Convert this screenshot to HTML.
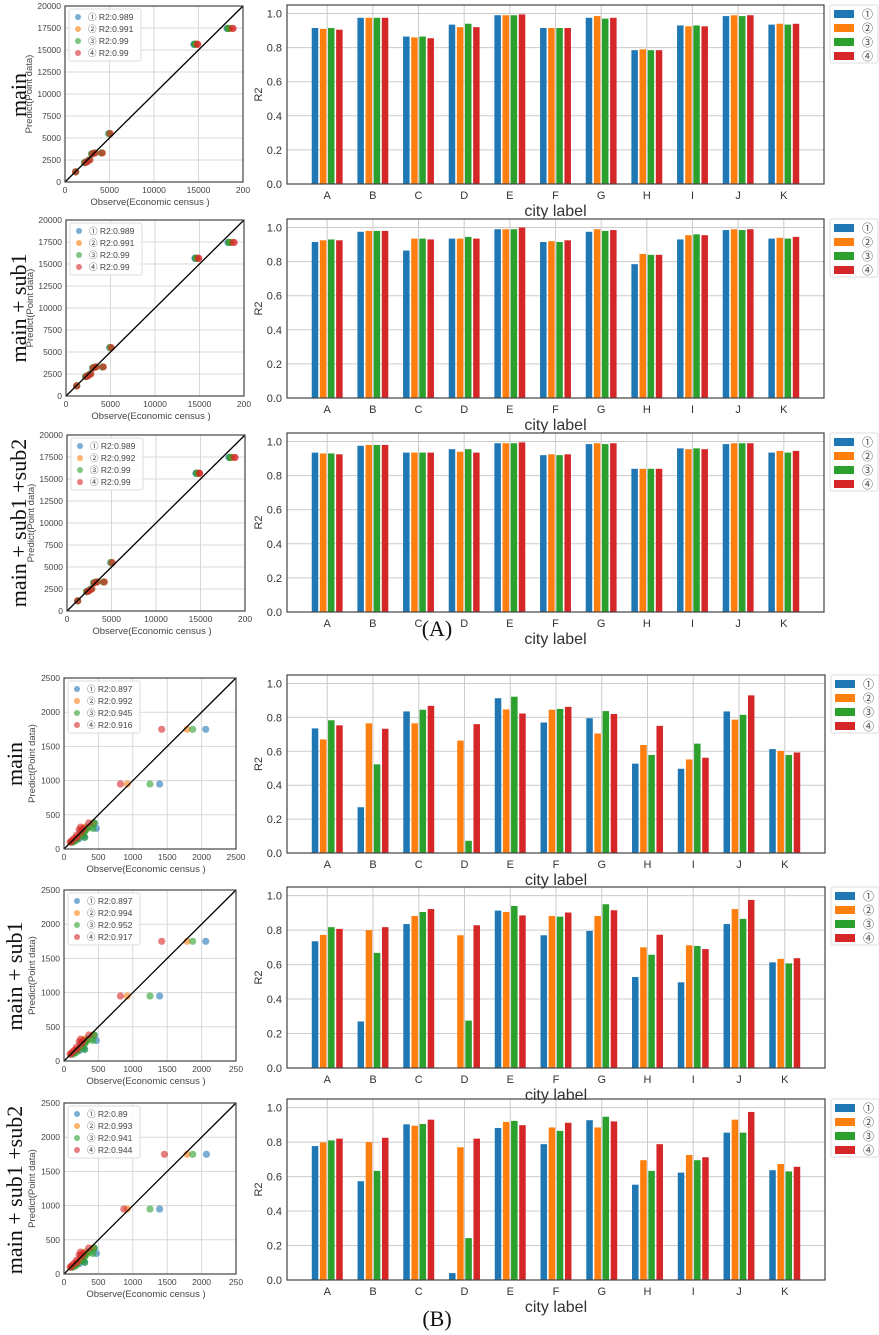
<!DOCTYPE html>
<html><head><meta charset="utf-8"><style>
html,body{margin:0;padding:0;background:#fff;}
svg{display:block;}
text{font-family:"Liberation Sans","Noto Sans CJK JP",sans-serif;}
</style></head><body>
<svg id="fig" width="879" height="1335" viewBox="0 0 879 1335" xmlns="http://www.w3.org/2000/svg"></svg>
<script>
const cities=["A","B","C","D","E","F","G","H","I","J","K"];
const seriesNames=["①","②","③","④"];
const colors=["#1f77b4","#ff7f0e","#2ca02c","#d62728"];
const barTicks=[0,0.2,0.4,0.6,0.8,1.0];
const barTickLabels=["0.0","0.2","0.4","0.6","0.8","1.0"];
const a1=[[.915,.91,.915,.905],[.975,.975,.975,.975],[.865,.86,.865,.855],[.935,.92,.94,.92],[.99,.99,.99,.995],[.915,.915,.915,.915],[.975,.985,.97,.975],[.785,.79,.785,.785],[.93,.925,.93,.925],[.985,.99,.985,.99],[.935,.94,.935,.94]];
const a2=[[.915,.925,.93,.925],[.975,.98,.98,.98],[.865,.935,.935,.93],[.935,.935,.945,.935],[.99,.99,.99,1.0],[.915,.92,.915,.925],[.975,.99,.98,.985],[.785,.845,.84,.84],[.93,.955,.96,.955],[.985,.99,.985,.99],[.935,.94,.935,.945]];
const a3=[[.935,.93,.93,.925],[.975,.98,.98,.98],[.935,.935,.935,.935],[.955,.94,.955,.935],[.99,.99,.99,.995],[.92,.925,.92,.925],[.985,.99,.985,.99],[.84,.84,.84,.84],[.96,.955,.96,.955],[.985,.99,.99,.99],[.935,.945,.935,.945]];
const b1=[[.735,.67,.783,.753],[.27,.765,.523,.733],[.835,.765,.845,.868],[0,.663,.072,.76],[.913,.847,.922,.823],[.77,.845,.85,.862],[.795,.705,.837,.82],[.527,.637,.578,.75],[.497,.552,.645,.562],[.835,.787,.815,.93],[.613,.602,.578,.593]];
const b2=[[.735,.772,.817,.807],[.27,.8,.668,.817],[.835,.882,.905,.922],[0,.77,.275,.828],[.913,.905,.94,.885],[.77,.882,.878,.902],[.795,.882,.95,.915],[.528,.7,.657,.773],[.497,.712,.708,.69],[.835,.922,.865,.975],[.613,.633,.607,.637]];
const b3=[[.777,.798,.81,.82],[.573,.8,.633,.825],[.903,.895,.905,.93],[.04,.77,.243,.82],[.882,.917,.923,.898],[.788,.885,.865,.912],[.927,.885,.947,.92],[.553,.695,.633,.788],[.623,.725,.695,.712],[.855,.93,.855,.975],[.637,.673,.63,.657]];
const aPred=[1150,2200,2300,2500,3200,3300,3300,5500,15650,15650,17450,17450];
const aObs1=[1200,2200,2400,2700,3000,3300,4100,4900,14500,14500,18200,18300];
const aObs2=[1200,2250,2450,2750,3050,3350,4150,5000,14700,14700,18450,18500];
const aObs3=[1200,2200,2400,2700,3000,3300,4100,4950,14600,14600,18300,18400];
const aObs4=[1200,2300,2500,2800,3100,3400,4200,5100,14900,14900,18800,18900];
const aR2a=["0.989","0.991","0.99","0.99"];
const aR2b=["0.989","0.991","0.99","0.99"];
const aR2c=["0.989","0.992","0.99","0.99"];
const aTicks=[0,2500,5000,7500,10000,12500,15000,17500,20000];
const aXTicks=[0,5000,10000,15000,20000];
const aXTickLabels=["0","5000","10000","15000","200"];
const bPred=[1750,950,380,320,300,280,250,200,170,150,120,100];
const bObs1=[2060,1390,440,330,470,300,240,280,300,220,150,110];
const bObs2=[1790,920,420,300,330,260,270,230,190,160,130,100];
const bObs3=[1870,1250,440,380,420,320,300,260,300,200,170,130];
const bObs4b=[1420,820,360,240,280,220,250,180,190,140,110,90];
const bObs1c=[2070,1390,440,330,470,300,240,280,300,220,150,110];
const bObs4c=[1460,870,360,240,280,220,250,180,190,140,110,90];
const bR2a=["0.897","0.992","0.945","0.916"];
const bR2b=["0.897","0.994","0.952","0.917"];
const bR2c=["0.89","0.993","0.941","0.944"];
const bTicks=[0,500,1000,1500,2000,2500];
const bXTickLabelsA=["0","500","1000","1500","2000","2500"];
const bXTickLabelsB=["0","500","1000","1500","2000","250"];

const NS="http://www.w3.org/2000/svg";
const svg=document.getElementById('fig');
function el(tag,attrs,parent,txt){const e=document.createElementNS(NS,tag);for(const k in attrs)e.setAttribute(k,attrs[k]);if(txt!==undefined)e.textContent=txt;(parent||svg).appendChild(e);return e;}

function barPanel(name,data,L,R,T,B){
  const g=el('g',{});
  
  
  const n=cities.length, s=(R-L)/(n-1+1.76);
  const xs=i=>L+0.88*s+i*s;
  const ys=v=>B-(v/1.05)*(B-T);
  barTicks.forEach((t,i)=>{
    const y=ys(t);
    const gl=el('line',{x1:L,x2:R,y1:y,y2:y,stroke:'#cccccc','stroke-width':1},g);
    
    
    const tl=el('text',{x:L-5,y:y+4,'font-size':11,'text-anchor':'end',fill:'#333'},g,barTickLabels[i]);
    
    
  });
  cities.forEach((c,i)=>{
    const x=xs(i);
    const gl=el('line',{x1:x,x2:x,y1:T,y2:B,stroke:'#cccccc','stroke-width':1},g);
    
    
    const tl=el('text',{x:x,y:B+15,'font-size':11,'text-anchor':'middle',fill:'#333'},g,c);
    
    
    const pitch=s*0.178, w=pitch*0.8;
    data[i].forEach((v,k)=>{
      const bx=x+(k-1.5)*pitch-w/2;
      const r=el('rect',{x:bx,y:ys(v),width:w,height:B-ys(v),fill:colors[k]},g);
      
      
    });
  });
  const fr=el('rect',{x:L,y:T,width:R-L,height:B-T,fill:'none',stroke:'#444','stroke-width':1.2},g);
  
  
  const yl=el('text',{x:0,y:0,'font-size':11,'text-anchor':'middle',fill:'#333',transform:`translate(${L-25},${(T+B)/2}) rotate(-90)`},g,'R2');
  
  
  const xl=el('text',{x:(L+R)/2,y:B+32,'font-size':16,'text-anchor':'middle',fill:'#333'},g,'city label');
  
  
  const lg=el('g',{},g);
  
  
  el('rect',{x:R+6,y:T,width:48,height:58,fill:'#fff',stroke:'#ddd',rx:2},lg);
  seriesNames.forEach((sn,k)=>{
    const p=el('rect',{x:R+10,y:T+5+k*14,width:20,height:8,fill:colors[k]},lg);
    
    
    const t=el('text',{x:R+38,y:T+13+k*14,'font-size':11,fill:'#444'},lg,sn);
    
    
  });
}

function scatterPanel(name,pred,obsList,r2,ticks,xticks,xLabels,maxV,L,R,T,B,ylOff){
  const g=el('g',{});
  
  
  const xs=v=>L+v/maxV*(R-L), ys=v=>B-v/maxV*(B-T);
  ticks.forEach(t=>{
    const y=ys(t);
    const gl=el('line',{x1:L,x2:R,y1:y,y2:y,stroke:'#d8d8d8'},g);
    
    
    const tl=el('text',{x:L-4,y:y+3,'font-size':8.5,'text-anchor':'end',fill:'#444'},g,String(t));
    
    
  });
  xticks.forEach((t,i)=>{
    const x=xs(t);
    const gl=el('line',{x1:x,x2:x,y1:T,y2:B,stroke:'#d8d8d8'},g);
    
    
    const tl=el('text',{x:x,y:B+11,'font-size':8.5,'text-anchor':'middle',fill:'#444'},g,xLabels[i]);
    
    
  });
  obsList.forEach((obs,k)=>{
    obs.forEach((o,j)=>{
      const c=el('circle',{cx:xs(o),cy:ys(pred[j]),r:3.6,fill:colors[k],'fill-opacity':0.6},g);
      
      
    });
  });
  const ln=el('line',{x1:L,y1:B,x2:R,y2:T,stroke:'#000','stroke-width':1.3},g);
  
  
  const fr=el('rect',{x:L,y:T,width:R-L,height:B-T,fill:'none',stroke:'#444','stroke-width':1.2},g);
  
  
  const lg=el('g',{},g);
  
  
  el('rect',{x:L+4,y:T+3,width:72,height:52,fill:'#fff','fill-opacity':0.85,stroke:'#ddd',rx:2},lg);
  r2.forEach((v,k)=>{
    el('circle',{cx:L+13,cy:T+11+k*12,r:3,fill:colors[k],'fill-opacity':0.6},lg);
    const t=el('text',{x:L+23,y:T+14+k*12,'font-size':8.5,fill:'#444'},lg,seriesNames[k]+' R2:'+v);
    
    
  });
  const yl=el('text',{x:0,y:0,'font-size':9.5,'text-anchor':'middle',fill:'#444',transform:`translate(${L-ylOff},${(T+B)/2}) rotate(-90)`},g,'Predict(Point data)');
  
  
  const xl=el('text',{x:(L+R)/2-4,y:B+23,'font-size':9.5,'text-anchor':'middle',fill:'#444'},g,'Observe(Economic census )');
  
  
}

function rowLabel(txt,x,y){
  const t=el('text',{x:0,y:0,'text-anchor':'middle',fill:'#111',style:'font-family:"Liberation Serif",serif;font-size:22px',transform:`translate(${x},${y}) rotate(-90)`},svg,txt);
  
  
}

const aObsAll=[aObs1,aObs2,aObs3,aObs4];
scatterPanel('scatter-a-main',aPred,aObsAll,aR2a,aTicks,aXTicks,aXTickLabels,20000,65,243,6,182,33);
scatterPanel('scatter-a-sub1',aPred,aObsAll,aR2b,aTicks,aXTicks,aXTickLabels,20000,66,244,220,396,33);
scatterPanel('scatter-a-sub2',aPred,aObsAll,aR2c,aTicks,aXTicks,aXTickLabels,20000,67,245,435,611,33);
barPanel('bar-chart-a-main',a1,287,824,5,184);
barPanel('bar-chart-a-sub1',a2,287,824,219,398);
barPanel('bar-chart-a-sub2',a3,287,824,433,612);

scatterPanel('scatter-b-main',bPred,[bObs1,bObs2,bObs3,bObs4b],bR2a,bTicks,bTicks,bXTickLabelsA,2500,64,236,678,849,29);
scatterPanel('scatter-b-sub1',bPred,[bObs1,bObs2,bObs3,bObs4b],bR2b,bTicks,bTicks,bXTickLabelsB,2500,64,236,890,1061,29);
scatterPanel('scatter-b-sub2',bPred,[bObs1c,bObs2,bObs3,bObs4c],bR2c,bTicks,bTicks,bXTickLabelsB,2500,64,236,1103,1274,29);
barPanel('bar-chart-b-main',b1,287,825,675,853);
barPanel('bar-chart-b-sub1',b2,287,825,887,1068);
barPanel('bar-chart-b-sub2',b3,287,825,1099,1280);

rowLabel('main',26,95);
rowLabel('main + sub1',26,308);
rowLabel('main + sub1 +sub2',26,523);
rowLabel('main',22,764);
rowLabel('main + sub1',22,976);
rowLabel('main + sub1 +sub2',22,1190);

const pa=el('text',{x:437,y:636,'text-anchor':'middle',fill:'#111',style:'font-family:"Liberation Serif",serif;font-size:22px'},svg,'(A)');


const pb=el('text',{x:437,y:1326,'text-anchor':'middle',fill:'#111',style:'font-family:"Liberation Serif",serif;font-size:22px'},svg,'(B)');


</script>
</body></html>
